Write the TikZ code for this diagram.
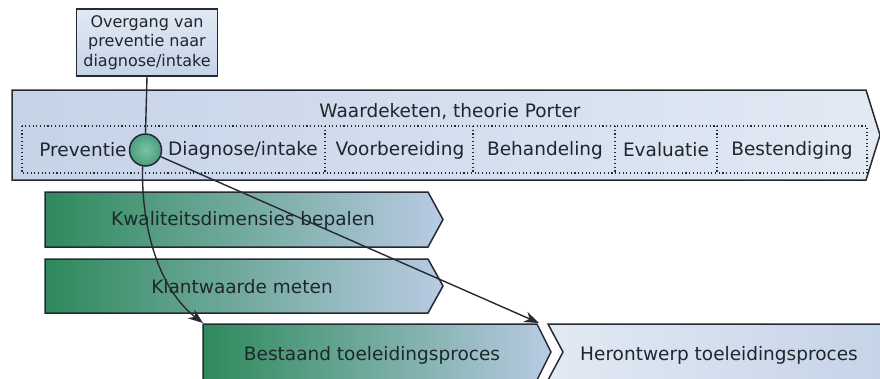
\documentclass[tikz,border=0pt]{standalone}
\usepackage{fontspec}
\setmainfont{DejaVu Sans}
\usetikzlibrary{positioning,arrows.meta}

\definecolor{bandlicht}{HTML}{E2E9F4}
\definecolor{banddonker}{HTML}{C5D3E8}
\definecolor{groen}{HTML}{2E8A5C}
\definecolor{blauw}{HTML}{B9CBE3}
\definecolor{cirkellicht}{HTML}{7CC2A4}
\definecolor{cirkelgroen}{HTML}{4A9E80}
\definecolor{lijn}{HTML}{262932}
\definecolor{tekst}{HTML}{1E272C}

\begin{document}
\begin{tikzpicture}[x=1pt,y=-1pt,>={Stealth[length=15pt,width=11pt]},
  blok/.style={draw=lijn,line width=1.5pt},
  fase/.style={font=\fontsize{18.5}{21}\selectfont,text=tekst,inner sep=0pt},
  verbinding/.style={lijn,line width=1.4pt},
  stippel/.style={lijn,line width=1.1pt,dash pattern=on 1.1pt off 2.6pt}]

  \clip (0,0) rectangle (880,378);

  % Waardeketen
  \path[blok,left color=banddonker,right color=bandlicht]
    (12,90) -- (866,90) -- (880,135) -- (866,180) -- (12,180) -- cycle;
  \draw[stippel] (22,126) rectangle (867,173);
  \foreach \x in {325,473,615,717}
    \draw[stippel] (\x,126) -- (\x,173);

  \node[fase] (titel) at (450,112) {Waardeketen, theorie Porter};
  \node[fase] (preventie) at (83,150) {Preventie};
  \node[fase] (diagnose) at (243,150) {Diagnose/intake};
  \node[fase] (voorbereiding) at (400,150) {Voorbereiding};
  \node[fase] (behandeling) at (545,150) {Behandeling};
  \node[fase] (evaluatie) at (666,150) {Evaluatie};
  \node[fase] (bestendiging) at (792,150) {Bestendiging};

  % Stappen
  \path[blok,left color=groen,right color=blauw]
    (45,192) -- (428,192) -- (443,219.5) -- (428,247) -- (45,247) -- cycle;
  \node[fase] (kwaliteit) at (243,220) {Kwaliteitsdimensies bepalen};

  \path[blok,left color=groen,right color=blauw]
    (45,259) -- (428,259) -- (443,286) -- (428,313) -- (45,313) -- cycle;
  \node[fase] (klantwaarde) at (242,287) {Klantwaarde meten};

  \path[blok,left color=groen,right color=blauw]
    (203,324) -- (537,324) -- (551,352) -- (537,380) -- (203,380) -- cycle;
  \node[fase] (bestaand) at (372,355) {Bestaand toeleidingsproces};
  \coordinate (bestaandhoek) at (203,323);

  \path[blok,left color=bandlicht,right color=banddonker]
    (548,324) -- (890,324) -- (890,380) -- (548,380) -- (563,352) -- cycle;
  \node[fase] (herontwerp) at (719,355) {Herontwerp toeleidingsproces};
  \coordinate (herontwerphoek) at (539,323);

  % Overgang
  \node[blok,top color=bandlicht,bottom color=banddonker,minimum width=141pt,
    minimum height=67pt,inner sep=0pt,align=center,text=tekst,
    font=\fontsize{16}{19.5}\selectfont] (overgangtekst) at (147,42.5)
    {Overgang van\\preventie naar\\diagnose/intake};
  \node[circle,blok,inner color=cirkellicht,outer color=cirkelgroen,
    minimum size=32pt,inner sep=0pt] (overgang) at (145.5,150) {};

  % Verbindingen
  \draw[verbinding] (overgangtekst.south) -- (overgang.north);
  \draw[->,verbinding] (overgang.-100)
    .. controls (141,230) and (160,290) .. (bestaandhoek);
  \draw[->,verbinding] (overgang) -- (herontwerphoek);
\end{tikzpicture}
\end{document}
